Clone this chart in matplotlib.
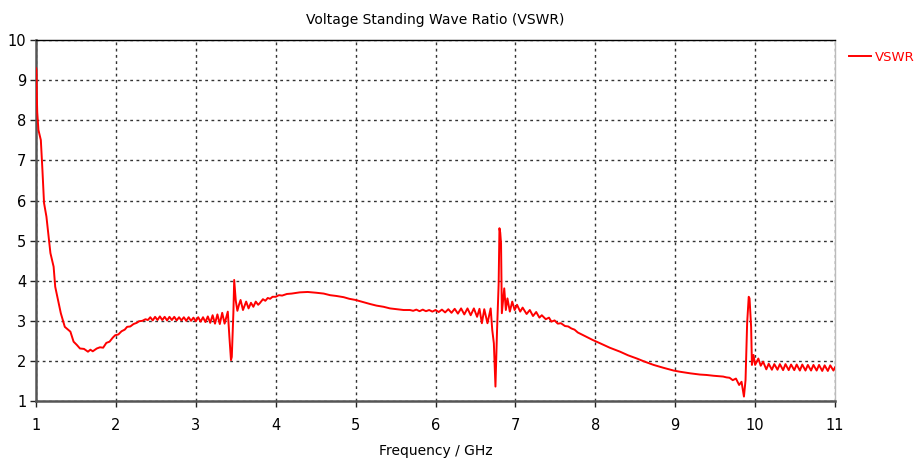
import matplotlib as mpl
mpl.use('Agg')
import matplotlib.pyplot as plt

plt.rcParams['font.family'] = ['DejaVu Sans']

# VSWR trace (frequency in GHz, VSWR)
freq_low = [1.00, 1.005, 1.01, 1.015, 1.03, 1.06, 1.08, 1.10, 1.13, 1.18, 1.22, 1.24,
            1.31, 1.36, 1.43, 1.47, 1.51, 1.55, 1.60, 1.65, 1.68, 1.71, 1.76, 1.80,
            1.84, 1.88, 1.92, 1.96, 1.99, 2.03, 2.07, 2.11, 2.14, 2.18, 2.22, 2.26,
            2.29, 2.33, 2.37, 2.40]
vswr_low = [9.30, 9.25, 8.59, 8.20, 7.76, 7.51, 6.76, 5.94, 5.60, 4.69, 4.35, 3.85,
            3.19, 2.85, 2.73, 2.48, 2.40, 2.31, 2.30, 2.23, 2.28, 2.24, 2.31, 2.34,
            2.33, 2.45, 2.48, 2.58, 2.64, 2.66, 2.74, 2.78, 2.85, 2.86, 2.92, 2.95,
            2.99, 3.00, 3.04, 3.02]

freq_mid1 = [2.43, 2.46, 2.49, 2.52, 2.55, 2.58, 2.61, 2.64, 2.67, 2.70, 2.73, 2.76,
             2.79, 2.82, 2.85, 2.88, 2.91, 2.94, 2.97, 3.00, 3.03, 3.06, 3.09, 3.12,
             3.15, 3.18, 3.21, 3.24, 3.27, 3.30, 3.33, 3.36, 3.40, 3.42, 3.44, 3.45,
             3.47, 3.48, 3.50, 3.52, 3.54, 3.56, 3.59, 3.63, 3.66, 3.69, 3.72, 3.75,
             3.78, 3.80, 3.84, 3.87, 3.90, 3.93, 3.96, 4.00, 4.04, 4.08, 4.14, 4.20,
             4.30, 4.40, 4.51, 4.60, 4.68, 4.76, 4.85, 4.92, 5.00, 5.09, 5.18, 5.26,
             5.35, 5.43, 5.51, 5.60, 5.68]
vswr_mid1 = [3.09, 3.01, 3.10, 3.02, 3.11, 3.02, 3.10, 3.01, 3.10, 3.02, 3.10, 3.01,
             3.09, 3.01, 3.09, 3.00, 3.09, 3.00, 3.08, 2.99, 3.09, 2.98, 3.09, 2.97,
             3.11, 2.95, 3.14, 2.93, 3.16, 2.92, 3.20, 2.93, 3.23, 2.60, 2.02, 2.10,
             3.20, 4.02, 3.50, 3.25, 3.40, 3.52, 3.27, 3.48, 3.31, 3.45, 3.35, 3.48,
             3.40, 3.44, 3.54, 3.50, 3.57, 3.55, 3.60, 3.60, 3.64, 3.63, 3.67, 3.68,
             3.71, 3.72, 3.70, 3.68, 3.64, 3.62, 3.59, 3.55, 3.52, 3.47, 3.42, 3.38,
             3.35, 3.31, 3.29, 3.27, 3.27]

freq_mid2 = [5.72, 5.76, 5.80, 5.84, 5.88, 5.92, 5.96, 6.00, 6.04, 6.08, 6.12, 6.16,
             6.20, 6.24, 6.28, 6.32, 6.36, 6.40, 6.44, 6.48, 6.52, 6.55, 6.58, 6.61,
             6.65, 6.69, 6.71, 6.73, 6.75, 6.77, 6.79, 6.80, 6.81, 6.82, 6.83, 6.86,
             6.88, 6.90, 6.93, 6.96, 6.99, 7.02, 7.06, 7.09, 7.14, 7.18, 7.22, 7.26,
             7.30, 7.33, 7.38, 7.42, 7.45, 7.49, 7.53, 7.57, 7.62, 7.66, 7.70, 7.74,
             7.78, 7.89, 7.97, 8.06, 8.18, 8.31, 8.41, 8.52, 8.62, 8.73, 8.85, 8.98,
             9.06, 9.19, 9.31, 9.39, 9.48, 9.60, 9.64, 9.68]
vswr_mid2 = [3.25, 3.28, 3.24, 3.28, 3.24, 3.27, 3.23, 3.27, 3.22, 3.28, 3.21, 3.29,
             3.20, 3.30, 3.18, 3.31, 3.16, 3.31, 3.14, 3.31, 3.10, 3.30, 2.94, 3.29,
             2.94, 3.31, 2.77, 2.44, 1.36, 2.77, 3.93, 5.31, 5.20, 4.93, 3.19, 3.81,
             3.27, 3.56, 3.23, 3.48, 3.27, 3.40, 3.23, 3.33, 3.17, 3.27, 3.12, 3.22,
             3.08, 3.14, 3.04, 3.08, 2.98, 3.01, 2.93, 2.94, 2.87, 2.86, 2.81, 2.78,
             2.71, 2.60, 2.52, 2.44, 2.33, 2.23, 2.14, 2.06, 1.98, 1.90, 1.83, 1.76,
             1.73, 1.69, 1.66, 1.65, 1.63, 1.61, 1.59, 1.58]

freq_high = [9.72, 9.76, 9.80, 9.83, 9.86, 9.88, 9.90, 9.92, 9.93, 9.95, 9.96, 9.98,
             10.00, 10.04, 10.07, 10.10, 10.14, 10.17, 10.21, 10.24, 10.28, 10.31,
             10.35, 10.38, 10.42, 10.45, 10.49, 10.52, 10.56, 10.59, 10.63, 10.66,
             10.70, 10.73, 10.77, 10.80, 10.84, 10.87, 10.91, 10.94, 10.98, 11.00]
vswr_high = [1.52, 1.56, 1.40, 1.48, 1.11, 1.52, 2.94, 3.60, 3.56, 2.85, 1.90, 2.15,
             1.90, 2.06, 1.88, 1.98, 1.79, 1.93, 1.78, 1.92, 1.78, 1.92,
             1.77, 1.92, 1.77, 1.91, 1.77, 1.91, 1.76, 1.91, 1.76, 1.90,
             1.76, 1.90, 1.76, 1.90, 1.75, 1.89, 1.75, 1.89, 1.76, 1.84]

freq_ghz = freq_low + freq_mid1 + freq_mid2 + freq_high
vswr = vswr_low + vswr_mid1 + vswr_mid2 + vswr_high

x_ticks = list(range(1, 12))
y_ticks = list(range(1, 11))

#----------------------------------------------------------
fig = plt.figure(figsize=(9.17, 4.62), dpi=100)
ax = fig.add_axes([0.0393, 0.132, 0.8713, 0.781])

# draw the trace above the spines so the start at 1 GHz stays visible
ax.plot(freq_ghz, vswr, color='red', linewidth=1.4, label='VSWR', zorder=3)

ax.set_xlim(1, 11)
ax.set_ylim(1, 10)
ax.set_xticks(x_ticks)
ax.set_yticks(y_ticks)
ax.grid(True, color='#333333', linestyle=(0, (2, 2.5)), linewidth=1.0)

ax.tick_params(axis='both', direction='out', length=4, width=1,
               colors='#222222', labelsize=10.5, labelcolor='black')
ax.tick_params(axis='x', pad=8)
ax.tick_params(axis='y', pad=3)

ax.spines['left'].set_color('#555555')
ax.spines['left'].set_linewidth(1.8)
ax.spines['bottom'].set_color('#555555')
ax.spines['bottom'].set_linewidth(1.8)
ax.spines['top'].set_color('black')
ax.spines['top'].set_linewidth(1.0)
ax.spines['right'].set_color('#bbbbbb')
ax.spines['right'].set_linewidth(1.0)

ax.set_title('Voltage Standing Wave Ratio (VSWR)', fontsize=10, pad=12)
ax.set_xlabel('Frequency / GHz', fontsize=10, labelpad=8)

ax.legend(loc='center left', bbox_to_anchor=(1.018, 0.953), frameon=False,
          labelcolor='red', fontsize=9.5, handlelength=1.6, handletextpad=0.3,
          borderaxespad=0, borderpad=0)

fig.savefig('out.png', dpi=100)
